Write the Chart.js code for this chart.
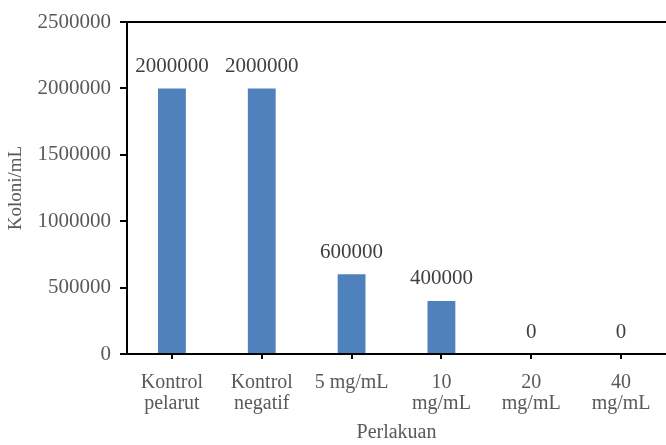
<!DOCTYPE html>
<html>
<head>
<meta charset="utf-8">
<script src="https://cdn.jsdelivr.net/npm/chart.js@4"></script>
<style>
  html, body { margin: 0; padding: 0; background: #fff; }
  #wrap { width: 666px; height: 445px; }
</style>
</head>
<body>
<div id="wrap"><canvas id="koloniChart" width="666" height="445"></canvas></div>
<script>
var categories = [["Kontrol", "pelarut"], ["Kontrol", "negatif"], "5 mg/mL", ["10", "mg/mL"], ["20", "mg/mL"], ["40", "mg/mL"]];
var koloniValues = [2000000, 2000000, 600000, 400000, 0, 0];
var yTicks = [0, 500000, 1000000, 1500000, 2000000, 2500000];

var fontFamily = "'Liberation Serif', 'Times New Roman', serif";
var tickColor = "#595959";

// draws the number above every bar
var barLabels = {
    id: "barLabels",
    afterDatasetsDraw: function(chart) {
        var ctx = chart.ctx;
        var meta = chart.getDatasetMeta(0);
        ctx.save();
        ctx.font = "21px " + fontFamily;
        ctx.fillStyle = "#404040";
        ctx.textAlign = "center";
        ctx.textBaseline = "middle";
        meta.data.forEach(function(bar, i) {
            ctx.fillText(String(koloniValues[i]), bar.x, bar.y - 22);
        });
        ctx.restore();
    }
};

var ctx = document.getElementById("koloniChart").getContext("2d");
var chartInstance = new Chart(ctx, {
    type: "bar",
    data: {
        labels: categories,
        datasets: [{
            label: "Koloni/mL",
            data: koloniValues,
            backgroundColor: "#4F81BD",
            barPercentage: 0.31,
            categoryPercentage: 1.0
        }]
    },
    options: {
        responsive: false,
        animation: false,
        layout: { padding: { left: 0, right: 0, top: 0, bottom: 0 } },
        plugins: {
            legend: { display: false },
            tooltip: { enabled: false }
        },
        scales: {
            x: {
                grid: {
                    display: true,
                    offset: false,
                    drawOnChartArea: false,
                    drawTicks: true,
                    tickLength: 5,
                    color: "#000",
                    lineWidth: 2
                },
                border: { display: true, color: "#000", width: 2 },
                ticks: {
                    color: tickColor,
                    font: { family: fontFamily, size: 20, lineHeight: 1.05 },
                    padding: 13,
                    maxRotation: 0,
                    autoSkip: false
                },
                title: {
                    display: true,
                    text: "Perlakuan",
                    color: tickColor,
                    font: { family: fontFamily, size: 20 },
                    padding: { top: 0, bottom: 0 }
                },
                afterFit: function(scale) { scale.height = 91; }
            },
            xTop: {
                position: "top",
                type: "category",
                labels: categories,
                grid: { display: false },
                border: { display: true, color: "#000", width: 2 },
                ticks: { display: false },
                afterFit: function(scale) { scale.height = 22; }
            },
            y: {
                min: 0,
                max: 2500000,
                afterBuildTicks: function(scale) {
                    scale.ticks = yTicks.map(function(v) { return { value: v }; });
                },
                grid: {
                    display: true,
                    drawOnChartArea: false,
                    drawTicks: true,
                    tickLength: 7,
                    color: "#000",
                    lineWidth: 2
                },
                border: { display: true, color: "#000", width: 2 },
                ticks: {
                    color: tickColor,
                    font: { family: fontFamily, size: 21 },
                    padding: 9,
                    callback: function(v) { return String(v); }
                },
                title: {
                    display: true,
                    text: "Koloni/mL",
                    color: tickColor,
                    font: { family: fontFamily, size: 19 },
                    padding: { top: 5, bottom: 0 }
                },
                afterFit: function(scale) { scale.width = 127; }
            }
        }
    },
    plugins: [barLabels]
});
</script>
</body>
</html>
